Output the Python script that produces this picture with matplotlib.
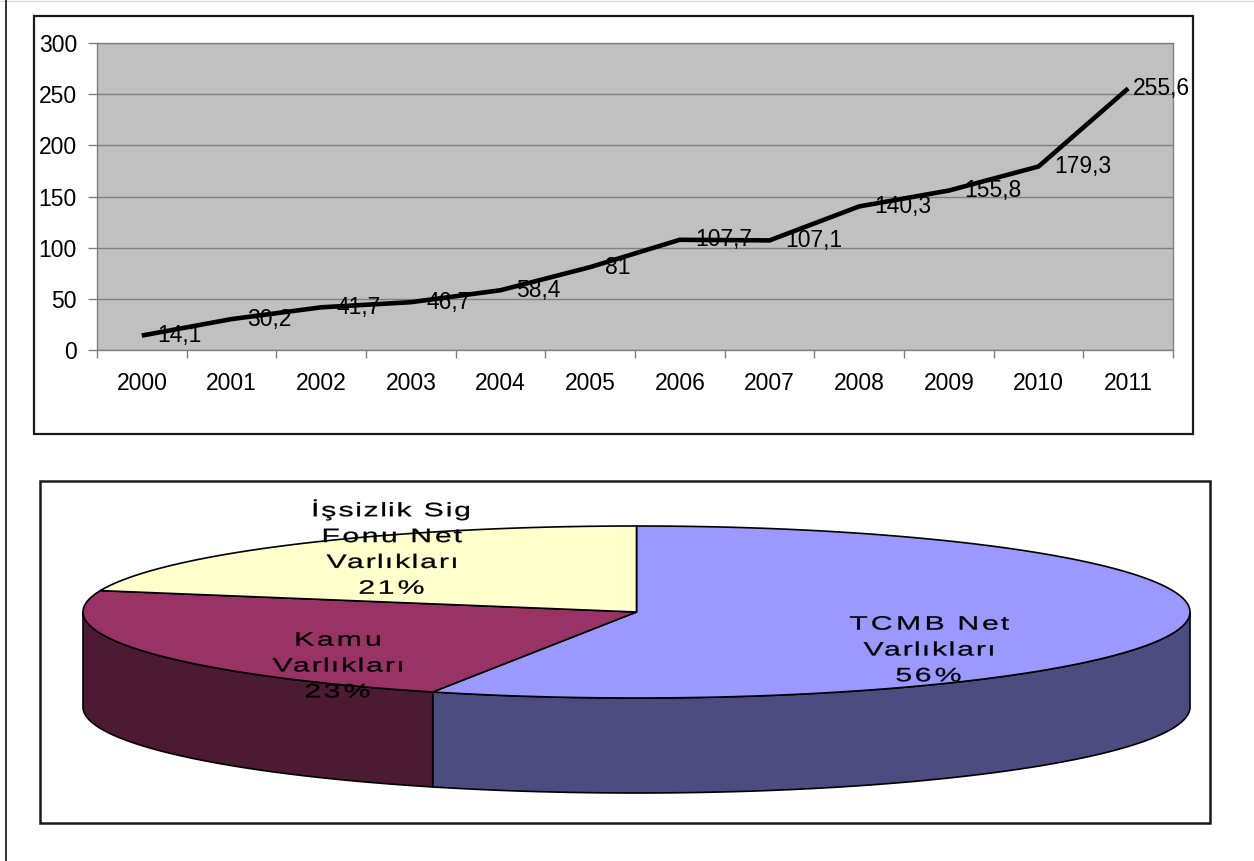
import numpy as np
import matplotlib
matplotlib.use("Agg")
import matplotlib.pyplot as plt
from matplotlib.patches import Polygon, Rectangle
from matplotlib.path import Path
from matplotlib.patheffects import AbstractPathEffect

# ---------------- data ----------------
years = ["2000", "2001", "2002", "2003", "2004", "2005",
         "2006", "2007", "2008", "2009", "2010", "2011"]
values = [14.1, 30.2, 41.7, 46.7, 58.4, 81, 107.7, 107.1, 140.3, 155.8, 179.3, 255.6]
y_ticks = [0, 50, 100, 150, 200, 250, 300]

pie_labels = ["TCMB Net\nVarlıkları", "Kamu\nVarlıkları", "İşsizlik Sig\nFonu Net\nVarlıkları"]
pie_values = [56, 23, 21]
pie_top_colors = ["#9999FF", "#993366", "#FFFFCC"]
pie_side_colors = ["#4C4C80", "#4C1A33", "#80806A"]

plt.rcParams["font.family"] = ["Liberation Sans", "DejaVu Sans"]

W, H = 1254, 861
fig = plt.figure(figsize=(W / 100, H / 100), dpi=100)
fig.patch.set_facecolor("white")


# ---------------- line chart ----------------
ax = fig.add_axes([97 / W, 1 - 350 / H, (1173 - 97) / W, (350 - 43) / H])
ax.set_facecolor("#C0C0C0")
xs = np.arange(len(years))
ax.plot(xs, values, color="black", lw=3.3, zorder=3, solid_capstyle="butt")
ax.set_xlim(-0.5, len(years) - 0.5)
ax.set_ylim(y_ticks[0], y_ticks[-1])
ax.set_yticks(y_ticks)
ax.set_xticks(np.arange(-0.5, len(years)), labels=[""] * (len(years) + 1))
ax.set_xticks(xs, labels=years, minor=True)
ax.tick_params(axis="x", which="major", length=5.5, color="#808080", width=1)
ax.tick_params(axis="x", which="minor", length=0, labelsize=16.5, pad=16)
ax.tick_params(axis="y", length=6.5, color="#808080", width=1, labelsize=16.5, pad=8)
ax.grid(axis="y", color="#808080", lw=1)
ax.set_axisbelow(True)
for sp in ax.spines.values():
    sp.set_color("#808080")
    sp.set_linewidth(1)


def fmt(v):
    return f"{v:g}".replace(".", ",")


for i, (xi, v) in enumerate(zip(xs, values)):
    off = 11 if i < len(values) - 1 else 3.5
    ax.annotate(fmt(v), (xi, v), xytext=(off, 0), textcoords="offset points",
                ha="left", va="center", fontsize=16.5, annotation_clip=False, zorder=4)

# ---------------- overlay (pixel coords) ----------------
ov = fig.add_axes([0, 0, 1, 1])
ov.set_xlim(0, W)
ov.set_ylim(H, 0)
ov.axis("off")

ov.plot([0, W], [0.5, 0.5], color="#dddddd", lw=1)
ov.plot([6, 6], [0, H], color="#222222", lw=1.3)
ov.add_patch(Rectangle((34, 16), 1193 - 34, 434 - 16, fill=False, ec="#1a1a1a", lw=1.6))
ov.add_patch(Rectangle((40, 481), 1210 - 40, 823 - 481, fill=False, ec="#1a1a1a", lw=1.8))

# ---------------- 3D pie ----------------
cx, cy, a, b, depth = 636.5, 612, 553.5, 86, 95


def ell(t):
    r = np.deg2rad(t)
    return np.column_stack([cx + a * np.cos(r), cy - b * np.sin(r)])


fr = np.array(pie_values, dtype=float) / np.sum(pie_values)
bounds = 90 - 360 * np.concatenate([[0], np.cumsum(fr)])

# side walls (front half only)
for i in range(len(pie_values)):
    t0, t1 = bounds[i], bounds[i + 1]
    hi, lo = min(t0, 0), max(t1, -180)
    if lo < hi:
        ts = np.linspace(hi, lo, 200)
        top = ell(ts)
        bot = top + np.array([0, depth])
        ov.add_patch(Polygon(np.vstack([top, bot[::-1]]), closed=True,
                             fc=pie_side_colors[i], ec="black", lw=1.2, zorder=2))

# top faces
for i in range(len(pie_values)):
    ts = np.linspace(bounds[i], bounds[i + 1], 300)
    pts = np.vstack([[cx, cy], ell(ts)])
    ov.add_patch(Polygon(pts, closed=True, fc=pie_top_colors[i], ec="black",
                         lw=1.2, zorder=3))


class WideText(AbstractPathEffect):
    """Horizontally widen glyphs (stretch), add a little letter spacing and weight."""

    def __init__(self, stretch, spread, weight=0.0):
        super().__init__()
        self.s = stretch
        self.f = spread
        self.w = weight

    def draw_path(self, renderer, gc, tpath, affine, rgbFace=None):
        verts = tpath.vertices.copy()
        codes = tpath.codes
        if codes is None or len(verts) == 0:
            renderer.draw_path(gc, tpath, affine, rgbFace)
            return
        starts = np.where(codes == Path.MOVETO)[0]
        ends = list(starts[1:]) + [len(verts)]
        conts = []
        for s, e in zip(starts, ends):
            m = codes[s:e] != Path.CLOSEPOLY
            xx = verts[s:e, 0][m]
            conts.append([xx.min(), xx.max(), s, e])
        conts.sort(key=lambda c: c[0])
        groups = []
        for c in conts:
            if groups:
                g = groups[-1]
                ov_ = min(g[1], c[1]) - c[0]
                if ov_ > 0.4 * min(g[1] - g[0], c[1] - c[0]):
                    g[1] = max(g[1], c[1])
                    g[2].append((c[2], c[3]))
                    continue
            groups.append([c[0], c[1], [(c[2], c[3])]])
        if groups:
            mid = (min(g[0] for g in groups) + max(g[1] for g in groups)) / 2
            for g in groups:
                sh = (self.f - 1) * ((g[0] + g[1]) / 2 - mid)
                for s, e in g[2]:
                    verts[s:e, 0] += sh
            verts[:, 0] = mid + self.s * (verts[:, 0] - mid)
        gc0 = renderer.new_gc()
        gc0.copy_properties(gc)
        if self.w > 0 and rgbFace is not None:
            gc0.set_linewidth(self.w)
            gc0.set_foreground(rgbFace)
        renderer.draw_path(gc0, Path(verts, codes), affine, rgbFace)
        gc0.restore()


label_pos = [(929, 651), (338, 667), (392, 549)]
for lab, v, (lx, ly) in zip(pie_labels, pie_values, label_pos):
    ov.text(lx, ly, f"{lab}\n{v}%", ha="center", va="center", fontsize=14,
            linespacing=1.68, zorder=5, path_effects=[WideText(1.55, 1.15, 0.2)])

fig.savefig("out.png", dpi=100)
